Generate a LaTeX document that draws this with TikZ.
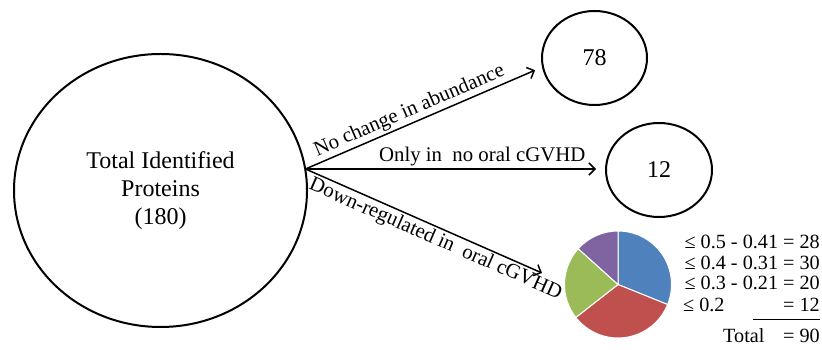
\documentclass[tikz,border=0pt]{standalone}
\usepackage{fontspec}
\setmainfont{Liberation Serif}
\usetikzlibrary{arrows.meta,shapes.geometric,calc}
\definecolor{pieblue}{HTML}{4F81BD}
\definecolor{piered}{HTML}{C0504D}
\definecolor{piegreen}{HTML}{9BBB59}
\definecolor{piepurple}{HTML}{8064A2}
\tikzset{
  bubble/.style={ellipse, draw, line width=2pt, inner sep=0pt, align=center,
                 font=\fontsize{24}{28}\selectfont},
  arr/.style={line width=1.5pt, -{Straight Barb[length=6pt,width=12pt,line width=1.5pt]}},
  lbl/.style={font=\fontsize{20.8}{24}\selectfont, inner sep=2pt},
  legend/.style={font=\fontsize{20.2}{24}\selectfont, inner sep=0pt},
  slice/.style={draw=white, line width=1pt}
}
\begin{document}
\begin{tikzpicture}[x=1pt,y=1pt]
\useasboundingbox (0,0) rectangle (822,350);
% nodes
\node[bubble, minimum width=293pt, minimum height=273pt] (total) at (160.5,159.5)
  {Total Identified\\Proteins\\(180)};
\node[bubble, minimum width=105pt, minimum height=94pt] (n78) at (594.5,292) {78};
\node[bubble, minimum width=106pt, minimum height=94pt] (n12) at (659,180) {12};
\coordinate (src) at (305.5,181);
\coordinate (pie) at (618,65.5);
\coordinate (e3) at (542,77);
% connectors
\draw[arr, shorten >=7.5pt] (src) -- (n78.190)
  node[lbl, sloped, above, pos=0.46] {No change in abundance};
\draw[arr, shorten >=9pt] (src) -- (src -| n12.west)
  node[lbl, above, pos=0.59] {Only in\ \ no oral cGVHD};
\draw[arr] (src) -- (e3)
  node[lbl, sloped, below, pos=0.57] {Down-regulated in\ \ oral cGVHD};
% pie
\def\R{53.5}
\filldraw[slice, fill=pieblue] (pie) -- ++(90:\R) arc[start angle=90, end angle=-22, radius=\R] -- cycle;
\filldraw[slice, fill=piered] (pie) -- ++(-22:\R) arc[start angle=-22, end angle=-142, radius=\R] -- cycle;
\filldraw[slice, fill=piegreen] (pie) -- ++(-142:\R) arc[start angle=-142, end angle=-222, radius=\R] -- cycle;
\filldraw[slice, fill=piepurple] (pie) -- ++(-222:\R) arc[start angle=-222, end angle=-270, radius=\R] -- cycle;
% legend
\node[legend, anchor=base east] (l1) at (820,101) {≤ 0.5 - 0.41 = 28};
\node[legend, anchor=base east] (l2) at (820,80.5) {≤ 0.4 - 0.31 = 30};
\node[legend, anchor=base east] (l3) at (820,60) {≤ 0.3 - 0.21 = 20};
\node[legend, anchor=base west] (l4a) at (683,38.5) {≤ 0.2};
\node[legend, anchor=base east] (l4b) at (820,38.5) {= 12};
\draw[line width=1pt] (753,30.7) -- (820,30.7);
\node[legend, anchor=base west] (l5a) at (723,7.5) {Total};
\node[legend, anchor=base east] (l5b) at (820,7.5) {= 90};
\end{tikzpicture}
\end{document}
